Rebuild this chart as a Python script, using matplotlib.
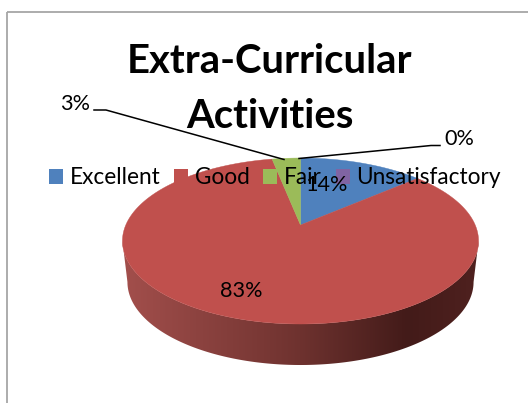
import numpy as np
import matplotlib
matplotlib.use("Agg")
import matplotlib.pyplot as plt
from matplotlib.patches import Polygon, Patch, Rectangle
from matplotlib.colors import LinearSegmentedColormap

# ---- data ----
categories = ["Excellent", "Good", "Fair", "Unsatisfactory"]
values = [13.6, 83.3, 3.1, 0]
labels = ["14%", "83%", "3%", "0%"]
colors = ["#4f81bd", "#c0504d", "#9bbb59", "#8064a2"]
title = "Extra-Curricular\nActivities"

plt.rcParams["font.family"] = ["Lato", "DejaVu Sans"]
fig = plt.figure(figsize=(5.28, 4.03), dpi=100, facecolor="white")
ax = fig.add_axes([0, 0, 1, 1])
ax.set_xlim(0, 528)
ax.set_ylim(403, 0)
ax.axis("off")

# chart frame
ax.add_patch(Rectangle((6.5, 11.5), 600, 500, fill=False, ec="#a6a6a6", lw=1.3, zorder=0))

# perspective pie geometry
cx, cy = 300.5, 225.0
a, b, k = 174.7, 79.9, 0.193
depth = 41.0
shrink = 0.972


def rim(theta, scale=1.0, dy=0.0):
    d = 1 + k * np.cos(theta)
    return cx + scale * a * np.sin(theta) / d, cy - b * np.cos(theta) / d + dy


# side wall of the red slice: horizontal gradient clipped to the wall outline
side_cmap = LinearSegmentedColormap.from_list(
    "side", [(0, "#a34f4c"), (0.5, "#6e322f"), (0.8, "#431b19"), (1, "#4f211f")])
widest = np.arccos(-k)
th = np.linspace(widest, 2 * np.pi - widest, 300)
x_top, y_top = rim(th)
x_bot, y_bot = rim(th, shrink, depth)
wall = Polygon(np.r_[np.c_[x_top, y_top], np.c_[x_bot, y_bot][::-1]], transform=ax.transData,
               fc="none", ec="none")
ax.add_patch(wall)
grad = np.linspace(0, 1, 512).reshape(1, -1)
img = ax.imshow(grad, cmap=side_cmap, extent=(122, 479, 370, 230), aspect="auto", zorder=1)
img.set_clip_path(wall)
ax.set_xlim(0, 528)
ax.set_ylim(403, 0)

# top wedges, clockwise from 12 o'clock
fractions = np.array(values, float) / sum(values)
starts = np.concatenate([[0], np.cumsum(fractions)[:-1]]) * 2 * np.pi
for frac, st, col in zip(fractions, starts, colors):
    if frac == 0:
        continue
    th = np.linspace(st, st + frac * 2 * np.pi, 200)
    xs, ys = rim(th)
    ax.add_patch(Polygon(np.r_[[[cx, cy]], np.c_[xs, ys]], fc=col, ec=col, lw=0.3, zorder=2))

# title
ax.text(269.5, 89, title, ha="center", va="center", fontsize=28.8, fontweight="bold",
        color="black", linespacing=1.58, zorder=3)

# legend
handles = [Patch(fc=c, ec="none") for c in colors]
leg = ax.legend(handles, categories, ncols=4, loc="center left", bbox_to_anchor=(49 / 528, 1 - 178 / 403),
                frameon=False, fontsize=16.3, handlelength=0.62, handleheight=0.62, handletextpad=0.3,
                columnspacing=0.6, borderpad=0, borderaxespad=0)
leg.set_zorder(4)

# data labels
ax.text(326, 185, labels[0], ha="center", va="center", fontsize=15.6, zorder=5)
ax.text(241, 291, labels[1], ha="center", va="center", fontsize=15.6, zorder=5)
ax.text(75, 104, labels[2], ha="center", va="center", fontsize=15.6, zorder=5)
ax.text(459, 139, labels[3], ha="center", va="center", fontsize=15.6, zorder=5)

# leader lines
ax.plot([94, 106, 284], [110, 110, 159.5], color="black", lw=1.1, zorder=5)
ax.plot([299, 431, 440], [158.5, 145.5, 145.5], color="black", lw=1.1, zorder=5)

fig.savefig("out.png", dpi=100)
